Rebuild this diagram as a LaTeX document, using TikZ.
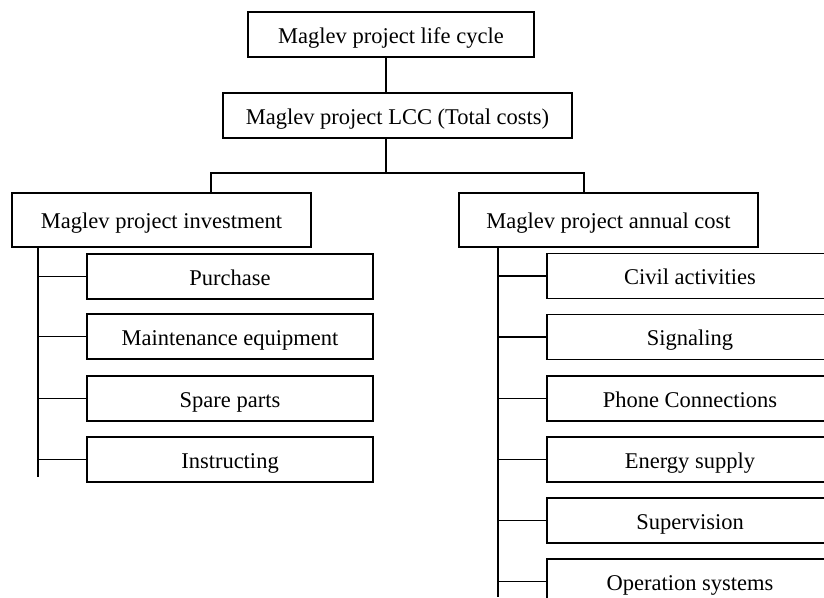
\documentclass[tikz,border=0pt]{standalone}
\usepackage{fontspec}
\setmainfont{Liberation Serif}
\tikzset{
  lcbox/.style={draw, line width=1.2pt, minimum width=286pt, minimum height=45pt,
    inner sep=0pt, text height=17pt, text depth=0pt,
    font=\fontsize{22.5}{27}\selectfont},
  headbox/.style={lcbox, minimum width=299pt, minimum height=54pt},
  link/.style={line width=1.2pt}
}
\begin{document}
\begin{tikzpicture}[x=1pt,y=-1pt]
  \useasboundingbox (0,0) rectangle (824,597);
  \clip (0,0) rectangle (824,597);
  \node[lcbox] (life) at (391,34.5) {Maglev project life cycle};
  \node[lcbox, minimum width=349pt] (lcc) at (397.5,115.5) {Maglev project LCC (Total costs)};
  \node[headbox] (inv) at (161.5,220) {Maglev project investment};
  \node[headbox] (ann) at (608.5,220) {Maglev project annual cost};
  \coordinate (trunk) at (386,173);
  \coordinate (invdrop) at (211,173);
  \coordinate (anndrop) at (584,173);
  \coordinate (invspine) at (38,477);
  \coordinate (annspine) at (498,597);
  % trunk and split
  \draw[link] (life.south -| trunk) -- (lcc.north -| trunk);
  \draw[link] (lcc.south -| trunk) -- (trunk);
  \draw[link] (inv.north -| invdrop) -- (invdrop) -- (anndrop) -- (ann.north -| anndrop);
  % investment items
  \draw[link] (inv.south -| invspine) -- (invspine);
  \foreach \y/\t [count=\i] in {276.5/Purchase, 336.5/Maintenance equipment,
      398.5/Spare parts, 459.5/Instructing}{
    \node[lcbox] (inv\i) at (230,\y) {\t};
    \draw[link] (inv\i.west) -- (inv\i.west -| invspine);
  }
  % annual cost items
  \draw[link] (ann.south -| annspine) -- (annspine);
  \foreach \y/\t [count=\i] in {276/Civil activities, 337/Signaling,
      398.5/Phone Connections, 459.5/Energy supply, 520.5/Supervision,
      581.5/Operation systems}{
    \node[lcbox] (ann\i) at (690,\y) {\t};
    \draw[link] (ann\i.west) -- (ann\i.west -| annspine);
  }
\end{tikzpicture}
\end{document}
